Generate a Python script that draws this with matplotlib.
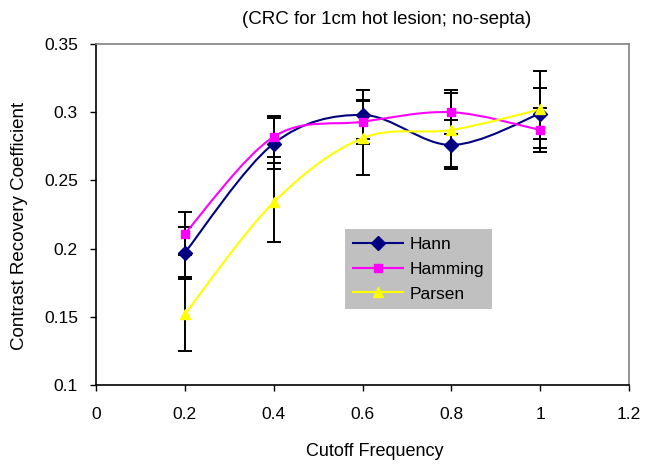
import matplotlib
matplotlib.use("Agg")
import matplotlib.pyplot as plt
from matplotlib.path import Path
from matplotlib.patches import PathPatch
from matplotlib.lines import Line2D
from matplotlib.ticker import FuncFormatter
import numpy as np

plt.rcParams['font.family'] = ['Liberation Sans', 'DejaVu Sans']

cutoff = [0.2, 0.4, 0.6, 0.8, 1.0]
hann = [0.197, 0.277, 0.298, 0.276, 0.299]
hamming = [0.211, 0.282, 0.293, 0.300, 0.287]
parsen = [0.152, 0.234, 0.281, 0.287, 0.302]
hann_err = [0.019, 0.019, 0.018, 0.018, 0.019]
hamming_err = [0.016, 0.015, 0.016, 0.016, 0.016]
parsen_err = [0.027, 0.029, 0.027, 0.027, 0.028]
series_names = ["Hann", "Hamming", "Parsen"]

colors = ["#000080", "#FF00FF", "#FFFF00"]
markers = ["D", "s", "^"]
msizes = [7, 5.5, 7.5]

fig = plt.figure(figsize=(6.5, 4.67), dpi=100)
ax = fig.add_axes([96/650, 1-385/467, (629-96)/650, (385-44)/467])


def smooth_path(xs, ys):
    pts = np.column_stack([xs, ys]).astype(float)
    n = len(pts)
    ext = np.vstack([pts[0], pts, pts[-1]])
    verts = [pts[0]]
    codes = [Path.MOVETO]
    for i in range(n - 1):
        p0, p1, p2, p3 = ext[i], ext[i + 1], ext[i + 2], ext[i + 3]
        c1 = p1 + (p2 - p0) / 6.0
        c2 = p2 - (p3 - p1) / 6.0
        verts += [c1, c2, p2]
        codes += [Path.CURVE4] * 3
    return Path(verts, codes)


all_vals = [hann, hamming, parsen]
all_errs = [hann_err, hamming_err, parsen_err]

for vals, errs in zip(all_vals, all_errs):
    ax.errorbar(cutoff, vals, yerr=errs, fmt='none', ecolor='black',
                elinewidth=1.4, capsize=5, capthick=1.4, zorder=2)

handles = []
for vals, c, m, ms, name in zip(all_vals, colors, markers, msizes, series_names):
    patch = PathPatch(smooth_path(cutoff, vals), facecolor='none',
                      edgecolor=c, lw=1.5, zorder=3)
    ax.add_patch(patch)
    ax.plot(cutoff, vals, linestyle='none', marker=m, color=c,
            markersize=ms, markeredgecolor=c, zorder=4)
    handles.append(Line2D([], [], color=c, lw=1.5, marker=m,
                          markersize=ms, markeredgecolor=c, label=name))

ax.set_xlim(0, 1.2)
ax.set_ylim(0.1, 0.35)
ax.set_xticks([0, 0.2, 0.4, 0.6, 0.8, 1.0, 1.2])
ax.set_yticks([0.1, 0.15, 0.2, 0.25, 0.3, 0.35])
fmt = FuncFormatter(lambda v, p: "%g" % round(v, 3))
ax.xaxis.set_major_formatter(fmt)
ax.yaxis.set_major_formatter(fmt)
ax.tick_params(direction='out', length=4, width=1, labelsize=12.5,
               colors='black')
ax.tick_params(axis='y', pad=9)
ax.tick_params(axis='x', pad=12)
for s in ['left', 'bottom']:
    ax.spines[s].set_color('black')
    ax.spines[s].set_linewidth(1.2)
for s in ['top', 'right']:
    ax.spines[s].set_color('#808080')
    ax.spines[s].set_linewidth(1.2)

leg = ax.legend(handles=handles, loc='upper left',
                bbox_to_anchor=(0.467, 0.457), fontsize=12.5,
                frameon=True, facecolor='#C0C0C0', edgecolor='none',
                framealpha=1, fancybox=False, handlelength=2.9,
                handletextpad=0.4, labelspacing=0.55, borderpad=0.45,
                borderaxespad=0)
leg.set_zorder(5)

fig.text(387/650, 1-20/467, "(CRC for 1cm hot lesion; no-septa)",
         ha='center', va='center', fontsize=13.5)
fig.text(375/650, 1-452/467, "Cutoff Frequency", ha='center',
         va='center', fontsize=13)
fig.text(20/650, 1-226/467, "Contrast Recovery Coefficient", ha='center',
         va='center', rotation=90, fontsize=13.5)

fig.savefig("out.png", dpi=100)
